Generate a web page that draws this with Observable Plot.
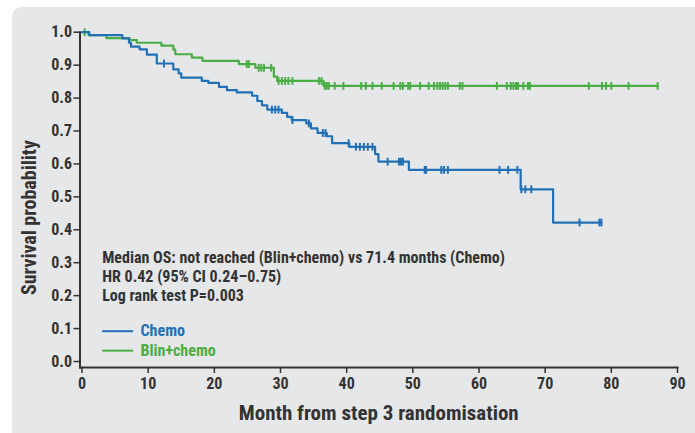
<!DOCTYPE html>
<html>
<head>
<meta charset="utf-8">
<script src="https://cdn.jsdelivr.net/npm/d3@7"></script>
<script src="https://cdn.jsdelivr.net/npm/@observablehq/plot@0.6"></script>
<style>
  html, body { margin: 0; padding: 0; background: #ffffff; }
  #panel { position: absolute; left: 12px; top: 7px; width: 683px; height: 426px; background: #e6e7e9; border-radius: 9px 0 0 0; }
  #chart { position: absolute; left: 0; top: 0; }
</style>
</head>
<body>
<div id="panel"></div>
<div id="chart"></div>
<script>
// ---- data ----
const xTicks = [0, 10, 20, 30, 40, 50, 60, 70, 80, 90];
const yTicks = [0, 0.1, 0.2, 0.3, 0.4, 0.5, 0.6, 0.7, 0.8, 0.9, 1.0];

const seriesNames = ["Chemo", "Blin+chemo"];
const seriesColors = ["#2270b5", "#4aad45"];

// Chemo: step times (months) and survival after each step
const chemoStepTimes = [0, 1.1, 6.1, 7.1, 7.4, 8.7, 9.8, 11.3, 13.8, 14.6, 15.0, 18.1, 19.1, 20.7, 21.9, 23.4, 25.7, 26.5, 27.2, 28.0, 30.2, 31.0, 31.7, 33.9, 34.6, 35.6, 37.0, 37.8, 40.4, 44.3, 44.8, 49.4, 66.3, 71.2];
const chemoStepSurv  = [1.0, 0.991, 0.981, 0.968, 0.956, 0.948, 0.932, 0.905, 0.887, 0.875, 0.862, 0.852, 0.846, 0.834, 0.824, 0.817, 0.807, 0.791, 0.778, 0.765, 0.755, 0.743, 0.733, 0.723, 0.708, 0.694, 0.684, 0.663, 0.652, 0.630, 0.607, 0.582, 0.523, 0.422];
const chemoCensorTimes = [12.4, 28.7, 29.2, 29.7, 31.8, 34.3, 36.4, 36.8, 40.3, 41.4, 42.0, 42.6, 43.2, 43.9, 46.2, 47.9, 48.2, 48.5, 51.8, 52.0, 54.3, 54.7, 55.3, 63.1, 64.4, 65.8, 66.4, 67.0, 67.9, 75.2, 78.2, 78.5];

// Blin+chemo
const blinStepTimes = [0, 1.0, 3.7, 7.2, 8.3, 12.0, 13.8, 14.1, 16.6, 18.2, 23.7, 26.2, 29.0, 29.5, 36.5];
const blinStepSurv  = [1.0, 0.991, 0.982, 0.976, 0.968, 0.959, 0.947, 0.933, 0.923, 0.913, 0.903, 0.892, 0.865, 0.852, 0.837];
const blinCensorTimes = [0.4, 24.9, 25.2, 26.7, 27.1, 27.5, 28.6, 29.7, 30.2, 30.7, 31.2, 31.8, 35.8, 36.2, 36.7, 37.0, 37.3, 38.2, 39.5, 42.2, 42.9, 43.9, 45.3, 47.1, 48.1, 48.5, 49.3, 49.6, 51.1, 52.4, 53.2, 53.7, 54.1, 54.5, 54.9, 55.3, 57.1, 57.5, 62.7, 64.2, 64.8, 65.2, 65.6, 65.9, 66.7, 67.4, 67.7, 76.6, 78.6, 79.2, 80.0, 82.6, 87.0];

const noteLines = [
  "Median OS: not reached (Blin+chemo) vs 71.4 months (Chemo)",
  "HR 0.42 (95% CI 0.24\u20130.75)",
  "Log rank test P=0.003"
];
const noteX = 3.05;
const noteY = [0.315, 0.256, 0.200];
const legendY = [0.092, 0.033];
const legendLineX = [3.05, 7.73];
const legendTextX = 8.84;

const xLabel = "Month from step 3 randomisation";
const yLabel = "Survival probability";
const yLabelAt = 0.437;

// ---- build tables ----
function stepRows(times, surv, censors, name) {
  const rows = times.map((t, i) => ({t, s: surv[i], name}));
  const end = Math.max(d3.max(censors), d3.max(times));
  rows.push({t: end, s: surv[surv.length - 1], name});
  return rows;
}
function survAt(times, surv, t) {
  let s = surv[0];
  for (let i = 0; i < times.length; i++) if (times[i] <= t) s = surv[i];
  return s;
}
function censorRows(times, surv, censors, name) {
  return censors.map(t => ({t, s: survAt(times, surv, t), name}));
}
const chemoRows = stepRows(chemoStepTimes, chemoStepSurv, chemoCensorTimes, seriesNames[0]);
const blinRows = stepRows(blinStepTimes, blinStepSurv, blinCensorTimes, seriesNames[1]);
const chemoCens = censorRows(chemoStepTimes, chemoStepSurv, chemoCensorTimes, seriesNames[0]);
const blinCens = censorRows(blinStepTimes, blinStepSurv, blinCensorTimes, seriesNames[1]);

const vbar = { draw(ctx, size) { const h = Math.sqrt(size / Math.PI); ctx.moveTo(0, -h); ctx.lineTo(0, h); } };

const FONT = '"Roboto Condensed","Liberation Sans Narrow","DejaVu Sans Condensed",Roboto,sans-serif';
const TXT = "#333333";

const legendRows = seriesNames.map((n, i) => ({name: n, color: seriesColors[i], y: legendY[i]}));
const noteRows = noteLines.map((l, i) => ({text: l, y: noteY[i]}));

const chart = Plot.plot({
  width: 695,
  height: 433,
  marginLeft: 79.5,
  marginRight: 18,
  marginTop: 31.7,
  marginBottom: 66,
  style: { fontFamily: FONT, fontWeight: "bold", color: TXT, background: "transparent", overflow: "visible" },
  x: { domain: [0, 90], insetLeft: 2 },
  y: { domain: [0, 1], insetBottom: 6 },
  marks: [
    Plot.frame({ anchor: "left", stroke: TXT, strokeWidth: 2 }),
    Plot.frame({ anchor: "bottom", stroke: TXT, strokeWidth: 2 }),
    Plot.axisY({ ticks: yTicks, tickFormat: d3.format(".1f"), tickSize: 6, tickPadding: 2, fontSize: 16, fontWeight: "bold", strokeWidth: 1.5, label: null }),
    Plot.axisX({ ticks: xTicks, tickSize: 6, tickPadding: 4, fontSize: 16, fontWeight: "bold", strokeWidth: 1.5, label: null }),
    Plot.text([yLabel], { frameAnchor: "left", y: [yLabelAt], dx: -50, rotate: -90, text: d => d, textAnchor: "middle", fontSize: 20, fontWeight: "bold", fill: TXT, lineAnchor: "middle" }),
    Plot.text([xLabel], { frameAnchor: "bottom", dy: 46, text: d => d, textAnchor: "middle", fontSize: 21, fontWeight: "bold", fill: TXT, lineAnchor: "middle" }),
    Plot.line(blinRows, { x: "t", y: "s", curve: "step-after", stroke: seriesColors[1], strokeWidth: 2.2 }),
    Plot.dot(blinCens, { x: "t", y: "s", symbol: vbar, r: 3.9, fill: "none", stroke: seriesColors[1], strokeWidth: 2 }),
    Plot.line(chemoRows, { x: "t", y: "s", curve: "step-after", stroke: seriesColors[0], strokeWidth: 2.2 }),
    Plot.dot(chemoCens, { x: "t", y: "s", symbol: vbar, r: 3.9, fill: "none", stroke: seriesColors[0], strokeWidth: 2 }),
    Plot.text(noteRows, { x: noteX, y: "y", text: "text", textAnchor: "start", lineAnchor: "middle", fontSize: 16, fontWeight: "bold", fill: TXT }),
    Plot.link(legendRows, { x1: legendLineX[0], x2: legendLineX[1], y1: "y", y2: "y", stroke: "color", strokeWidth: 2 }),
    Plot.text(legendRows, { x: legendTextX, y: "y", text: "name", fill: "color", textAnchor: "start", lineAnchor: "middle", fontSize: 16, fontWeight: "bold" })
  ]
});
document.getElementById("chart").appendChild(chart);
</script>
</body>
</html>
